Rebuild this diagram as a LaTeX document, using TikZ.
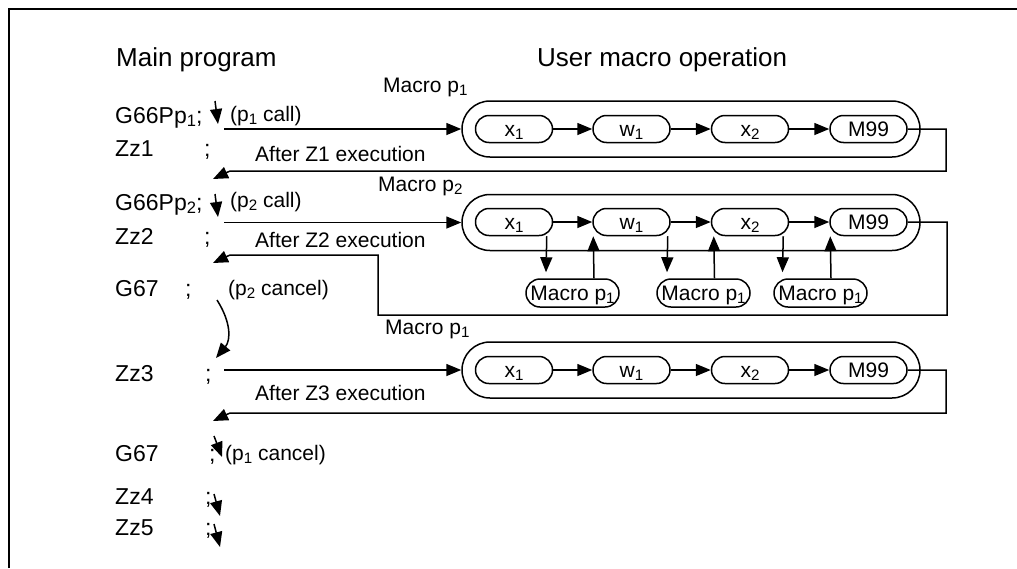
\documentclass[tikz,border=0pt]{standalone}
\usepackage{fontspec}
\setmainfont{Liberation Sans}
\usetikzlibrary{arrows.meta, calc}
\newcommand{\lowidx}[1]{\raisebox{-0.3ex}{\scalebox{0.72}{#1}}}

\begin{document}
\begin{tikzpicture}[x=1pt, y=-1pt,
  every node/.style={font=\fontsize{21}{25}\selectfont, inner sep=0pt,
                     text height=15pt, text depth=0pt},
  lbl/.style={anchor=west},
  lst/.style={anchor=west, font=\fontsize{23}{27}\selectfont, text height=16.5pt},
  head/.style={anchor=west, font=\fontsize{26}{30}\selectfont, text height=18.6pt},
  stage/.style={draw, line width=1.5pt, rounded corners=13.5pt,
                minimum width=77pt, minimum height=27pt},
  macrobox/.style={draw, line width=1.5pt, rounded corners=28pt,
                   minimum width=458pt, minimum height=56pt},
  callbox/.style={draw, line width=1.5pt, rounded corners=14pt,
                  minimum width=93pt, minimum height=28pt},
  arr/.style={-{Triangle[length=15pt, width=12pt]}, line width=1.5pt}]
  \useasboundingbox (0,0) rectangle (1017,568);

  % frame
  \draw[line width=2.4pt] (9,568) -- (9,9) -- (1017,9);

  % headings
  \node[head] (mainhd) at (116,57) {Main program};
  \node[head] (userhd) at (537,57) {User macro operation};

  % main program listing
  \node[lst] (g66a) at (115,115) {G66Pp\lowidx{1};};
  \node[lst] (zz1) at (115,148) {Zz1};
  \node[lst] (sc1) at (204,148) {;};
  \node[lst] (g66b) at (115,202) {G66Pp\lowidx{2};};
  \node[lst] (zz2) at (115,236) {Zz2};
  \node[lst] (sc2) at (204,236) {;};
  \node[lst] (g67a) at (115,288) {G67};
  \node[lst] (sc3) at (185,288) {;};
  \node[lst] (zz3) at (115,373) {Zz3};
  \node[lst] (sc4) at (205,373) {;};
  \node[lst] (g67b) at (115,453) {G67};
  \node[lst] (sc5) at (209,453) {;};
  \node[lst] (zz4) at (115,496) {Zz4};
  \node[lst] (sc6) at (205,496) {;};
  \node[lst] (zz5) at (115,527) {Zz5};
  \node[lst] (sc7) at (205,527) {;};

  % comments on the listing
  \node[lbl] (call1) at (230,114) {(p\lowidx{1} call)};
  \node[lbl] (call2) at (230,200) {(p\lowidx{2} call)};
  \node[lbl] (canc2) at (228,288) {(p\lowidx{2} cancel)};
  \node[lbl] (canc1) at (225,453) {(p\lowidx{1} cancel)};
  \node[lbl] (aft1) at (255,154) {After Z1 execution};
  \node[lbl] (aft2) at (255,240) {After Z2 execution};
  \node[lbl] (aft3) at (255,393) {After Z3 execution};
  \node[lbl] (mlab1) at (383,85) {Macro p\lowidx{1}};
  \node[lbl] (mlab2) at (378,184) {Macro p\lowidx{2}};
  \node[lbl] (mlab3) at (385,327) {Macro p\lowidx{1}};

  % macro p1 (first call)
  \node[macrobox] (mba) at (691,129) {};
  \node[stage] (xa1) at (514,129) {x\lowidx{1}};
  \node[stage] (wa) at (631.5,129) {w\lowidx{1}};
  \node[stage] (xa2) at (750,129) {x\lowidx{2}};
  \node[stage] (ma) at (868.5,129) {M99};
  \draw[arr] (xa1) -- (wa);
  \draw[arr] (wa) -- (xa2);
  \draw[arr] (xa2) -- (ma);

  % macro p2
  \node[macrobox] (mbb) at (691,222.5) {};
  \node[stage] (xb1) at (514,222) {x\lowidx{1}};
  \node[stage] (wb) at (631.5,222) {w\lowidx{1}};
  \node[stage] (xb2) at (750,222) {x\lowidx{2}};
  \node[stage] (mb) at (868.5,222) {M99};
  \draw[arr] (xb1) -- (wb);
  \draw[arr] (wb) -- (xb2);
  \draw[arr] (xb2) -- (mb);

  % nested p1 calls
  \node[callbox] (mpa) at (572.5,293) {Macro p\lowidx{1}};
  \node[callbox] (mpb) at (703.5,293) {Macro p\lowidx{1}};
  \node[callbox] (mpc) at (820.5,293) {Macro p\lowidx{1}};
  \draw[arr] ([xshift=-6.5pt]xb1.south east) -- ([xshift=-26.5pt, yshift=6pt]mpa.north);
  \draw[arr] ([xshift=21.5pt]mpa.north) -- ([xshift=1pt]wb.south west);
  \draw[arr] ([xshift=-3pt]wb.south east) -- ([xshift=-36.5pt, yshift=6pt]mpb.north);
  \draw[arr] ([xshift=11pt]mpb.north) -- ([xshift=3pt]xb2.south west);
  \draw[arr] ([xshift=-6pt]xb2.south east) -- ([xshift=-38pt, yshift=6pt]mpc.north);
  \draw[arr] ([xshift=10.5pt]mpc.north) -- ([xshift=1pt]mb.south west);

  % macro p1 (after cancel of p2)
  \node[macrobox] (mbc) at (691,370) {};
  \node[stage] (xc1) at (514,370) {x\lowidx{1}};
  \node[stage] (wc) at (631.5,370) {w\lowidx{1}};
  \node[stage] (xc2) at (750,370) {x\lowidx{2}};
  \node[stage] (mc) at (868.5,370) {M99};
  \draw[arr] (xc1) -- (wc);
  \draw[arr] (wc) -- (xc2);
  \draw[arr] (xc2) -- (mc);

  % calls into the macros
  \coordinate (go1) at (224,129);
  \coordinate (go2) at (224,222.5);
  \coordinate (go3) at (224,370);
  \draw[arr] (go1) -- (mba.west);
  \draw[arr] (go2) -- (mbb.west);
  \draw[arr] (go3) -- (mbc.west);

  % returns to the main program
  \coordinate (back1) at (213,179);
  \coordinate (back2) at (213,263);
  \coordinate (back3) at (213,421);
  \draw[arr] (ma.east) -- (946,129) -- (946,171) -- (230,171) -- (back1);
  \draw[arr] (mb.east) -- (947,222) -- (947,315) -- (378,315) -- (378,255)
        -- (230,255) -- (back2);
  \draw[arr] (mc.east) -- (946,370) -- (946,413) -- (230,413) -- (back3);

  % small step arrows
  \coordinate (s1a) at (215,101); \coordinate (s1b) at (218,124);
  \coordinate (s2a) at (215,194); \coordinate (s2b) at (218,217);
  \coordinate (s3a) at (217,300); \coordinate (s3b) at (216,358);
  \coordinate (s4a) at (214,436); \coordinate (s4b) at (222,457);
  \coordinate (s5a) at (214,494); \coordinate (s5b) at (220,516);
  \coordinate (s6a) at (214,524); \coordinate (s6b) at (220,547);
  \draw[arr] (s1a) -- (s1b);
  \draw[arr] (s2a) -- (s2b);
  \draw[arr] (s3a) .. controls (231,322) and (231,340) .. (s3b);
  \draw[arr] (s4a) -- (s4b);
  \draw[arr] (s5a) -- (s5b);
  \draw[arr] (s6a) -- (s6b);
\end{tikzpicture}
\end{document}
